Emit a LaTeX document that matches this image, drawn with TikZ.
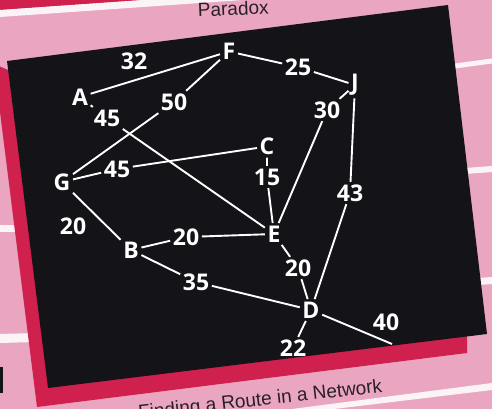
\documentclass[tikz,border=0pt]{standalone}
\usepackage{fontspec}
\setmainfont{Liberation Sans}
\newfontfamily\lblfont{Open Sans}
\definecolor{pinkbg}{RGB}{234,166,192}
\definecolor{crim}{RGB}{208,32,78}
\definecolor{board}{RGB}{20,19,24}
\definecolor{stripe}{RGB}{250,244,247}
\definecolor{inkc}{RGB}{40,32,40}
\tikzset{
  vtx/.style={text=white,font=\lblfont\bfseries\fontsize{23}{23}\selectfont,inner sep=2.5pt},
  wt/.style={vtx},
  link/.style={draw=white,line width=1.9pt},
  caption/.style={text=inkc,font=\fontsize{19}{19}\selectfont,inner sep=0pt}
}
\begin{document}
\begin{tikzpicture}[x=1pt,y=-1pt]
\useasboundingbox (0,0) rectangle (492,409);
\clip (0,0) rectangle (492,409);
% page background
\fill[pinkbg] (0,0) rectangle (492,409);
\fill[crim] (0,0) -- (143,0) -- (0,10) -- cycle;
\fill[stripe] (0,10) -- (143,0) -- (243,0) -- (0,17) -- cycle;
\fill[stripe] (455,63.5) -- (492,58.5) -- (492,63.5) -- (455,68.5) -- cycle;
\fill[stripe] (465,168) -- (492,166) -- (492,172) -- (465,174) -- cycle;
\fill[stripe] (478,278) -- (492,277) -- (492,284) -- (478,285) -- cycle;
\fill[stripe] (0,225) -- (20,225) -- (20,232) -- (0,232) -- cycle;
\fill[stripe] (0,334) -- (35,333) -- (35,342) -- (0,343) -- cycle;
\fill[stripe] (292,409) -- (492,383) -- (492,390) -- (334,409) -- cycle;
\fill[board] (0,367) rectangle (3,393);
% shadow and board
\fill[crim] (-6,64) -- (37,407) -- (467,353) -- (467,300) -- (20,75) -- cycle;
\fill[board] (7,61) -- (448,5) -- (487,334) -- (48,388) -- cycle;
% captions
\node[caption,anchor=base west,rotate=2.5] (title) at (198,17) {Paradox};
\node[caption,anchor=base west,rotate=6.3] (cap) at (139,419) {Finding a Route in a Network};
% vertices
\node[vtx] (F) at (229,51.5) {F};
\node[vtx] (A) at (80,97) {A};
\node[vtx] (J) at (355,85) {J};
\node[vtx] (G) at (62,182) {G};
\node[vtx] (C) at (267,146.5) {C};
\node[vtx] (E) at (274,234) {E};
\node[vtx] (B) at (131,250) {B};
\node[vtx] (D) at (311,310) {D};
% weights
\node[wt] (w32) at (134,61) {32};
\node[wt] (w25) at (298,67) {25};
\node[wt] (w50) at (174,102) {50};
\node[wt] (w45a) at (107,118) {45};
\node[wt] (w30) at (327,110) {30};
\node[wt] (w45b) at (117,169) {45};
\node[wt] (w15) at (267,177) {15};
\node[wt] (w43) at (350,193) {43};
\node[wt] (w20a) at (73,226) {20};
\node[wt] (w20b) at (186,237) {20};
\node[wt] (w20c) at (298,268) {20};
\node[wt] (w35) at (196,282) {35};
\node[wt] (w40) at (386,322) {40};
\node[wt] (w22) at (293,348) {22};
\coordinate (end40) at (392,344);
% connectors
\draw[link] (A) -- (F);
\draw[link] (F) -- (w25) -- (J);
\draw[link] (F) -- (w50) -- (G);
\draw[link] (A) -- (w45a) -- (E);
\draw[link] (J) -- (w30) -- (E);
\draw[link] (J) -- (w43) -- (D);
\draw[link] (G) -- (w45b) -- (C);
\draw[link] (C) -- (w15) -- (E);
\draw[link] (G) -- (B);
\draw[link] (B) -- (w20b) -- (E);
\draw[link] (E) -- (w20c) -- (D);
\draw[link] (B) -- (w35) -- (D);
\draw[link] (D) -- (end40);
\draw[link] (D) -- (w22);
\end{tikzpicture}
\end{document}
